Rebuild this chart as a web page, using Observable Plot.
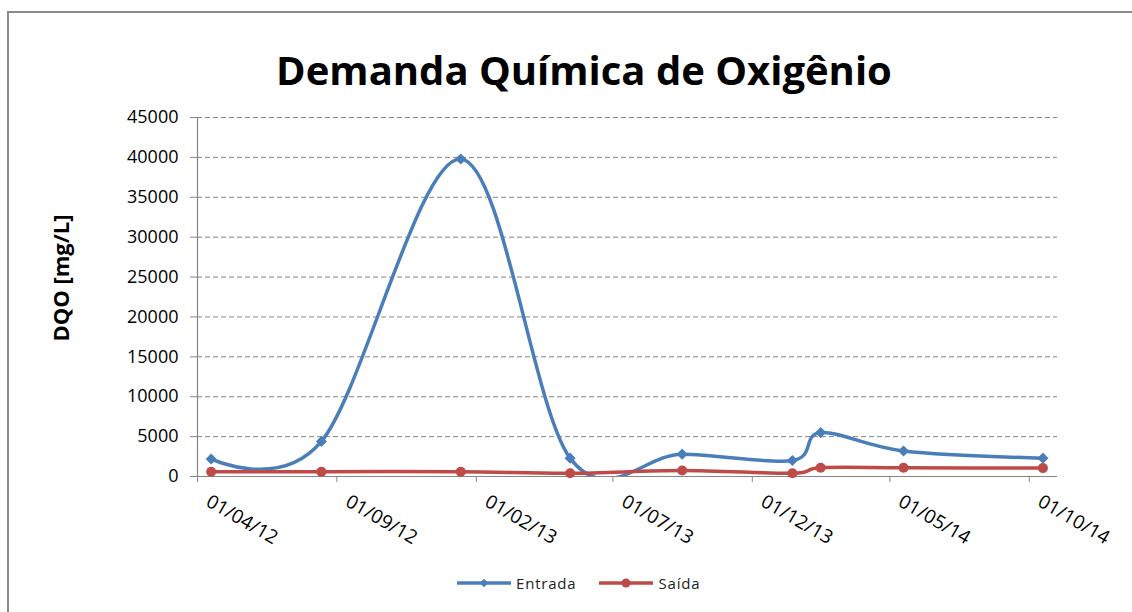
<!DOCTYPE html>
<html>
<head>
<meta charset="utf-8">
<script src="https://cdn.jsdelivr.net/npm/d3@7"></script>
<script src="https://cdn.jsdelivr.net/npm/@observablehq/plot@0.6"></script>
<style>
  html, body { margin: 0; background: #fff; overflow: hidden; }
  #wrap { position: relative; width: 1132px; height: 612px; overflow: hidden; font-family: "Open Sans", sans-serif; background: #fff; }
  .fline { position: absolute; background: #8a8a8a; pointer-events: none; }
  #ftop { left: 7px; top: 11px; width: 1125px; height: 2px; }
  #fleft { left: 7px; top: 11px; width: 2px; height: 601px; }
  #title { position: absolute; left: 0; width: 1168px; top: 42px; text-align: center; font-weight: bold; font-size: 40px; color: #000; white-space: nowrap; }
  #ylabel { position: absolute; left: 60px; top: 278px; transform: translate(-50%, -50%) rotate(-90deg); font-weight: bold; font-size: 22px; color: #000; white-space: nowrap; }
  #chart { position: absolute; left: 0; top: 0; }
  #legend { position: absolute; left: 456px; top: 573px; display: flex; align-items: center; font-size: 15px; color: #222; letter-spacing: 0.8px; }
  #legend .item { display: flex; align-items: center; margin-right: 22px; }
  #legend svg { margin-right: 4px; }
</style>
</head>
<body>
<div id="wrap">
  <div id="chart"></div>
  <div id="title"></div>
  <div id="ylabel"></div>
  <div id="legend"></div>
  <div class="fline" id="ftop"></div>
  <div class="fline" id="fleft"></div>
</div>
<script>
// ---- data ----
const dates = ["2012-04-16", "2012-08-15", "2013-01-15", "2013-05-15", "2013-09-15", "2014-01-14", "2014-02-14", "2014-05-16", "2014-10-16"];
const entrada = [2200, 4400, 39800, 2300, 2800, 2000, 5500, 3200, 2300];
const saida = [600, 600, 600, 400, 750, 400, 1100, 1100, 1050];
const xTickLabels = ["01/04/12", "01/09/12", "01/02/13", "01/07/13", "01/12/13", "01/05/14", "01/10/14"];
const xTickDates = ["2012-04-01", "2012-09-01", "2013-02-01", "2013-07-01", "2013-12-01", "2014-05-01", "2014-10-01"];
const yTicks = [0, 5000, 10000, 15000, 20000, 25000, 30000, 35000, 40000, 45000];
const xDomain = ["2012-04-01", "2014-11-01"];
const seriesNames = ["Entrada", "Saída"];
const colors = ["#4A7EBB", "#BE4B48"];
const title = "Demanda Química de Oxigênio";
const yLabel = "DQO [mg/L]";

const parse = d3.utcParse("%Y-%m-%d");
const rowsE = dates.map((d, i) => ({date: parse(d), value: entrada[i]}));
const rowsS = dates.map((d, i) => ({date: parse(d), value: saida[i]}));
const ticks = xTickDates.map((d, i) => ({date: parse(d), label: xTickLabels[i]}));
const axisColor = "#868686";

const plot = Plot.plot({
  width: 1132,
  height: 612,
  marginLeft: 197,
  marginRight: 75,
  marginTop: 117,
  marginBottom: 136,
  style: {fontFamily: "Open Sans, sans-serif", fontSize: "18px", background: "transparent", color: "#000"},
  x: {type: "utc", domain: xDomain.map(parse)},
  y: {domain: [0, 45000]},
  marks: [
    Plot.gridY(yTicks.filter(v => v > 0), {stroke: axisColor, strokeOpacity: 1, strokeWidth: 1, strokeDasharray: "5,3"}),
    Plot.axisY({ticks: yTicks, tickSize: 7, tickPadding: 12, tickFormat: d => String(d), label: null, stroke: axisColor, fontSize: 18, color: "#000"}),
    Plot.axisX({ticks: ticks.map(t => t.date), tickSize: 6, tickFormat: () => "", label: null, stroke: axisColor}),
    Plot.ruleX([parse(xDomain[0])], {stroke: axisColor, strokeWidth: 1.2}),
    Plot.ruleY([0], {stroke: axisColor, strokeWidth: 1.2}),
    Plot.text(ticks, {x: "date", text: "label", frameAnchor: "bottom", rotate: 30, textAnchor: "start", lineAnchor: "top", dx: 14, dy: 17, fontSize: 19, fill: "#000"}),
    Plot.line(rowsE, {x: "date", y: "value", stroke: colors[0], strokeWidth: 3.5, curve: "cardinal", clip: true}),
    Plot.line(rowsS, {x: "date", y: "value", stroke: colors[1], strokeWidth: 3.5, curve: "cardinal", clip: true}),
    Plot.dot(rowsE, {x: "date", y: "value", symbol: "diamond2", r: 5, fill: colors[0], stroke: "none"}),
    Plot.dot(rowsS, {x: "date", y: "value", symbol: "circle", r: 5, fill: colors[1], stroke: "none"})
  ]
});
document.getElementById("chart").appendChild(plot);
document.getElementById("title").textContent = title;
document.getElementById("ylabel").textContent = yLabel;

// legend
const legend = d3.select("#legend");
seriesNames.forEach((name, i) => {
  const item = legend.append("div").attr("class", "item");
  const svg = item.append("svg").attr("width", 56).attr("height", 14);
  svg.append("line").attr("x1", 1).attr("x2", 55).attr("y1", 7).attr("y2", 7).attr("stroke", colors[i]).attr("stroke-width", 3.5);
  if (i === 0) {
    svg.append("path").attr("d", d3.symbol(d3.symbolSquare, 36)()).attr("transform", "translate(28,7) rotate(45)").attr("fill", colors[i]);
  } else {
    svg.append("circle").attr("cx", 28).attr("cy", 7).attr("r", 4.5).attr("fill", colors[i]);
  }
  item.append("span").text(name);
});
</script>
</body>
</html>
